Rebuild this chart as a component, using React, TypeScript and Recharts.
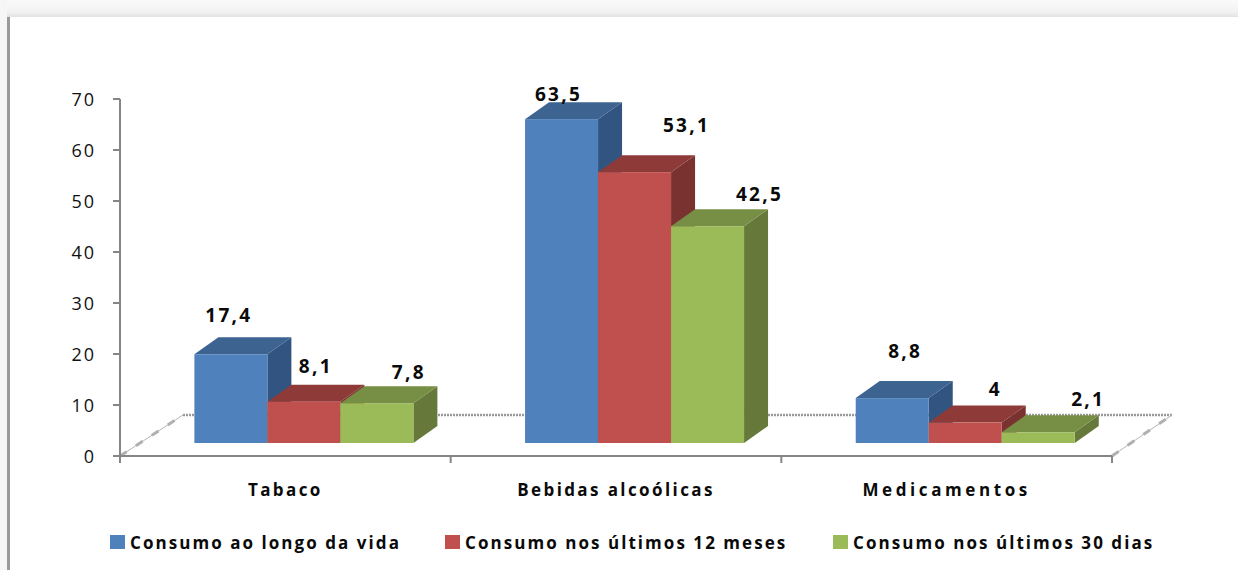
import { BarChart, Bar, XAxis, YAxis, LabelList, usePlotArea } from "recharts";

const categories = ["Tabaco", "Bebidas alcoólicas", "Medicamentos"];
const vida = [17.4, 63.5, 8.8];
const meses12 = [8.1, 53.1, 4];
const dias30 = [7.8, 42.5, 2.1];
const yTicks = [0, 10, 20, 30, 40, 50, 60, 70];

const seriesNames = ["Consumo ao longo da vida", "Consumo nos últimos 12 meses", "Consumo nos últimos 30 dias"];

const data = categories.map((name, i) => ({ name, vida: vida[i], meses12: meses12[i], dias30: dias30[i] }));

// the picture's data labels sit at odd places, so each one gets its own nudge
const vidaNudge = [[-2, -39], [-3, -25], [13, -47]];
const meses12Nudge = [[12, -36], [52, -47], [30, -34]];
const dias30Nudge = [[32, -31], [52, -32], [50, -33]];

// "Medicamentos" is spaced wider than the other two in the picture
const categorySpacing = [2.4, 2.4, 3.6];

const FONT = "'Open Sans', sans-serif";
const AXIS = "#868686";
const DEPTH_X = 24;
const DEPTH_Y = 17;
const SHIFT_X = 19; // bars stand on the floor, in from the axis plane
const SHIFT_Y = -13;

function Box3D({ x, y, width, height, front, top, side }: any) {
  const left = x + SHIFT_X;
  const right = left + width;
  const upper = y + SHIFT_Y;
  const lower = upper + height;
  return (
    <g>
      <polygon points={`${right},${upper} ${right + DEPTH_X},${upper - DEPTH_Y} ${right + DEPTH_X},${lower - DEPTH_Y} ${right},${lower}`} fill={side} />
      <polygon points={`${left},${upper} ${left + DEPTH_X},${upper - DEPTH_Y} ${right + DEPTH_X},${upper - DEPTH_Y} ${right},${upper}`} fill={top} />
      <rect x={left} y={upper} width={width} height={height} fill={front} />
    </g>
  );
}

function Floor() {
  const plot = usePlotArea();
  if (!plot) return null;
  const bottom = plot.y + plot.height;
  const right = plot.x + plot.width;
  const back = bottom - 41;
  const step = plot.width / categories.length;
  return (
    <g>
      <line x1={plot.x + 63} y1={back} x2={right + 60} y2={back} stroke="#9a9a9a" strokeWidth={2.5} strokeDasharray="2 1" />
      <line x1={plot.x} y1={bottom} x2={plot.x + 63} y2={back} stroke="#b4b4b4" strokeWidth={1} />
      <line x1={plot.x} y1={bottom} x2={plot.x + 63} y2={back} stroke="#b0b0b0" strokeWidth={3} strokeDasharray="8 11" />
      <line x1={right} y1={bottom} x2={right + 60} y2={back} stroke="#b4b4b4" strokeWidth={1} />
      <line x1={right} y1={bottom} x2={right + 60} y2={back} stroke="#b0b0b0" strokeWidth={3} strokeDasharray="8 11" />
      {[0, 1, 2, 3].map((i) => (
        <line key={i} x1={plot.x + i * step} y1={bottom} x2={plot.x + i * step} y2={bottom + 7} stroke={AXIS} strokeWidth={2} />
      ))}
    </g>
  );
}

function CategoryTick({ x, y, payload, index }: any) {
  return (
    <text
      x={x}
      y={y}
      textAnchor="middle"
      dominantBaseline="central"
      fontFamily={FONT}
      fontSize={17}
      fontWeight={700}
      letterSpacing={categorySpacing[index]}
      fill="#0a0a0a"
    >
      {payload.value}
    </text>
  );
}

function valueLabel(nudge: number[][]) {
  return (props: any) => {
    const { x, y, width, value, index } = props;
    const [dx, dy] = nudge[index];
    return (
      <text
        x={x + SHIFT_X + width / 2 + dx}
        y={y + SHIFT_Y + dy}
        textAnchor="middle"
        dominantBaseline="central"
        fontFamily={FONT}
        fontSize={19}
        fontWeight={700}
        letterSpacing={2.3}
        fill="#0a0a0a"
      >
        {String(value).replace(".", ",")}
      </text>
    );
  };
}

const legendColors = ["#4F81BD", "#C0504D", "#9BBB59"];
const legendLefts = [110, 445, 833];

export default function App() {
  return (
    <div style={{ position: "absolute", left: 0, top: 0, width: 1238, height: 570, background: "#fff", overflow: "hidden" }}>
      {/* top band and left rule of the slide behind the chart */}
      <div style={{ position: "absolute", left: 0, top: 0, width: 1238, height: 17, background: "linear-gradient(#fafafa, #f2f2f2 70%, #e2e2e2)" }} />
      <div style={{ position: "absolute", left: 0, top: 0, width: 7, height: 570, background: "#f6f6f6" }} />
      <div style={{ position: "absolute", left: 7, top: 17, width: 3, height: 553, background: "#9a9a9a" }} />

      <BarChart
        width={1238}
        height={570}
        data={data}
        margin={{ top: 99, right: 126, bottom: 64, left: 60 }}
        barCategoryGap="16.75%"
        barGap={0}
        style={{ position: "absolute", left: 0, top: 0 }}
      >
        <XAxis
          dataKey="name"
          height={50}
          tickLine={false}
          tickMargin={27}
          axisLine={{ stroke: AXIS, strokeWidth: 2 }}
          tick={<CategoryTick />}
        />
        <YAxis
          width={60}
          domain={[0, 70]}
          ticks={yTicks}
          tickSize={7}
          tickMargin={17}
          axisLine={{ stroke: AXIS, strokeWidth: 2 }}
          tickLine={{ stroke: AXIS, strokeWidth: 2 }}
          tick={{ fontFamily: FONT, fontSize: 18, fill: "#111", letterSpacing: 2, dy: 1 }}
        />
        <Floor />
        <Bar dataKey="vida" isAnimationActive={false} shape={(p: any) => <Box3D {...p} front="#4F81BD" top="#3D6391" side="#325480" />}>
          <LabelList dataKey="vida" content={valueLabel(vidaNudge)} />
        </Bar>
        <Bar dataKey="meses12" isAnimationActive={false} shape={(p: any) => <Box3D {...p} front="#C0504D" top="#8E3A38" side="#7A3230" />}>
          <LabelList dataKey="meses12" content={valueLabel(meses12Nudge)} />
        </Bar>
        <Bar dataKey="dias30" isAnimationActive={false} shape={(p: any) => <Box3D {...p} front="#9BBB59" top="#778F45" side="#66793A" />}>
          <LabelList dataKey="dias30" content={valueLabel(dias30Nudge)} />
        </Bar>
      </BarChart>

      {seriesNames.map((name, i) => (
        <div key={name} style={{ position: "absolute", left: legendLefts[i], top: 531, display: "flex", alignItems: "center", height: 22 }}>
          <span style={{ width: 15, height: 14, background: legendColors[i], marginRight: 5 }} />
          <span style={{ fontFamily: FONT, fontSize: 17, fontWeight: 700, letterSpacing: 2.05, color: "#0a0a0a", whiteSpace: "nowrap" }}>{name}</span>
        </div>
      ))}
    </div>
  );
}
